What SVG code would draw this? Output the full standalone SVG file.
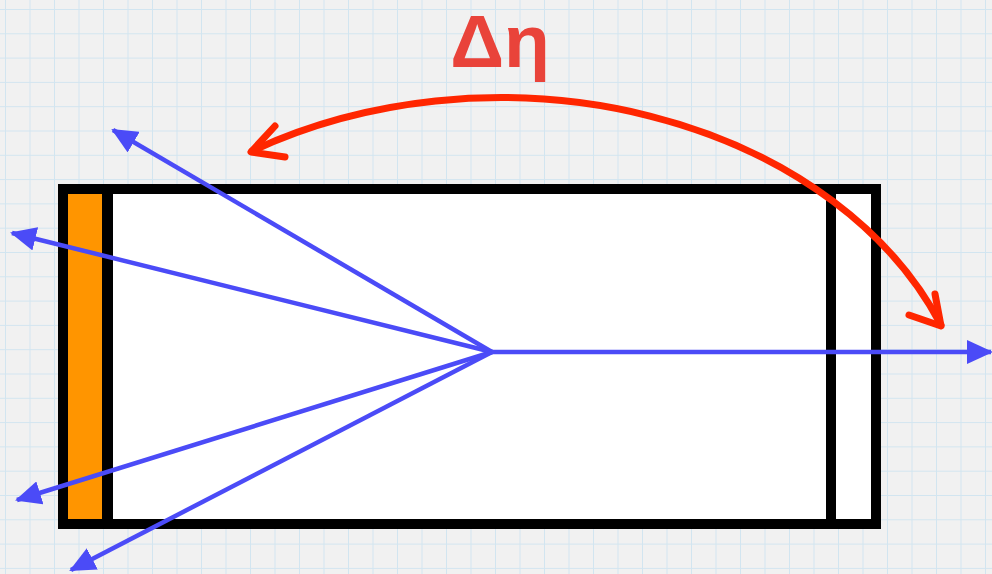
<svg xmlns="http://www.w3.org/2000/svg" width="992" height="574" viewBox="0 0 992 574">
  <style>
    .ray { stroke: #4b4bf7; stroke-width: 4.5; fill: none; marker-end: url(#blueHead); }
    .frame { fill: none; stroke: #000; stroke-width: 10; }
    .arc { fill: none; stroke: #ff2600; stroke-width: 7; stroke-linecap: round; stroke-linejoin: round; }
    .label { font-family: "Liberation Sans", Arial, sans-serif; font-weight: bold; font-size: 75px; fill: #e9433a; }
  </style>
  <defs>
    <pattern id="grid" x="5" y="9" width="24.5" height="24.3" patternUnits="userSpaceOnUse">
      <path d="M0,0 V24.3 M0,0 H24.5" stroke="#d2e5f0" stroke-width="2" fill="none"/>
    </pattern>
    <marker id="blueHead" viewBox="0 0 26 24" refX="24" refY="12" markerWidth="26" markerHeight="24" markerUnits="userSpaceOnUse" orient="auto">
      <path d="M0,0 L26,12 L0,24 Z" fill="#4b4bf7"/>
    </marker>
  </defs>
  <rect width="992" height="574" fill="#f1f1f1"/>
  <rect width="992" height="574" fill="url(#grid)"/>

  <g id="detector">
    <rect x="63" y="189" width="813" height="335" fill="#fff"/>
    <rect x="68" y="194" width="35" height="325" fill="#ff9500"/>
    <rect class="frame" x="63" y="189" width="813" height="335"/>
    <rect x="102" y="194" width="11" height="325" fill="#000"/>
    <rect x="826" y="194" width="10" height="325" fill="#000"/>
  </g>

  <g id="connectors">
    <line class="ray" x1="492" y1="352" x2="113" y2="130"/>
    <line class="ray" x1="492" y1="352" x2="12" y2="233"/>
    <line class="ray" x1="492" y1="352" x2="17" y2="500"/>
    <line class="ray" x1="492" y1="352" x2="71" y2="570"/>
    <line class="ray" x1="492" y1="352" x2="991" y2="352"/>
  </g>

  <g id="delta-eta">
    <path class="arc" d="M252,151 A474 360 0 0 1 941,325"/>
    <path class="arc" d="M275,126 L251,152 L285,157"/>
    <path class="arc" d="M935,294 L941,326 L909,315"/>
    <text class="label" x="500" y="67" text-anchor="middle">Δη</text>
  </g>
</svg>
